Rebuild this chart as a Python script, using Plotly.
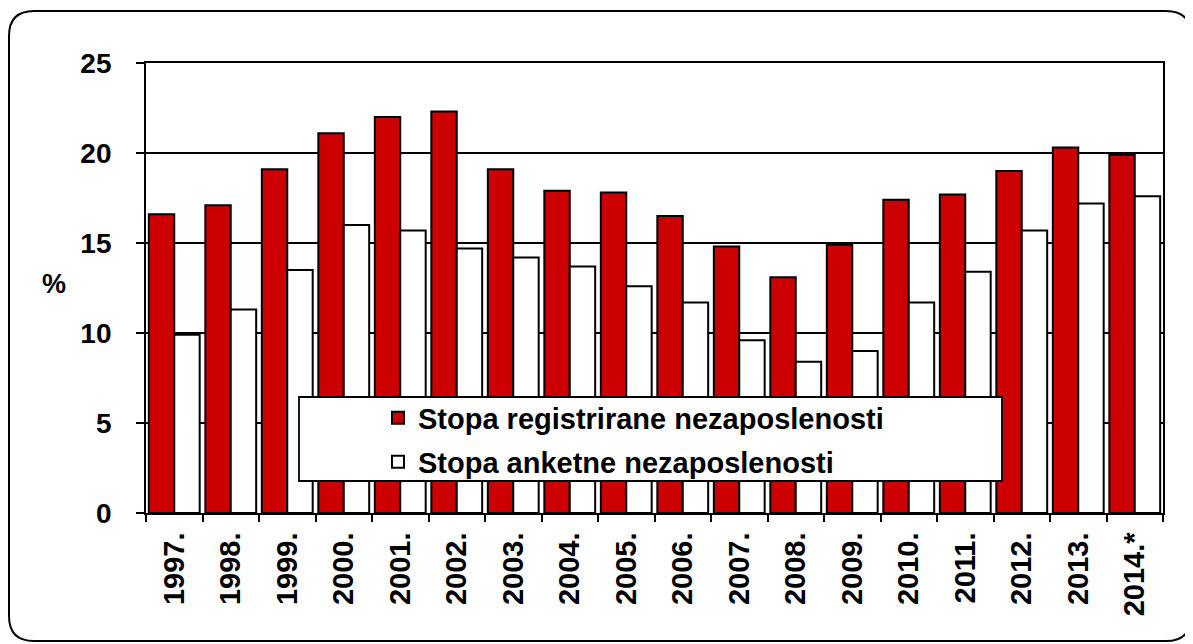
import plotly.graph_objects as go

# data
years = ["1997.", "1998.", "1999.", "2000.", "2001.", "2002.", "2003.", "2004.", "2005.",
         "2006.", "2007.", "2008.", "2009.", "2010.", "2011.", "2012.", "2013.", "2014.*"]
registrirana = [16.6, 17.1, 19.1, 21.1, 22.0, 22.3, 19.1, 17.9, 17.8,
                16.5, 14.8, 13.1, 14.9, 17.4, 17.7, 19.0, 20.3, 19.9]
anketna = [9.9, 11.3, 13.5, 16.0, 15.7, 14.7, 14.2, 13.7, 12.6,
           11.7, 9.6, 8.4, 9.0, 11.7, 13.4, 15.7, 17.2, 17.6]
y_ticks = [0, 5, 10, 15, 20, 25]

FONT = "Arial, Liberation Sans, sans-serif"
RED = "rgb(204,0,0)"

fig = go.Figure()

fig.add_trace(go.Bar(
    x=years, y=registrirana, name="Stopa registrirane nezaposlenosti",
    marker=dict(color=RED, line=dict(color="black", width=2)),
    legend="legend",
))
fig.add_trace(go.Bar(
    x=years, y=anketna, name="Stopa anketne nezaposlenosti",
    marker=dict(color="white", line=dict(color="black", width=2)),
    legend="legend2",
))

# the page body has an 8px margin, so the figure is drawn 8px smaller
# and all page pixel positions below are shifted by 8
OFF = 8
W, H = 1193 - OFF, 644 - OFF
L, T = 146 - OFF, 63 - OFF
R = W - (1163 - OFF)
B = H - (513 - OFF)
pw, ph = W - L - R, H - T - B


def px(x):
    return (x - OFF - L) / pw


def py(y):
    return (H - B - (y - OFF)) / ph


# rounded outer frame
xl, xr, yt, yb = px(9), px(1191), py(11), py(641)
rx, ry = 25 / pw, 25 / ph
frame = (f"M {xl+rx},{yt} L {xr-rx},{yt} Q {xr},{yt} {xr},{yt-ry} "
         f"L {xr},{yb+ry} Q {xr},{yb} {xr-rx},{yb} L {xl+rx},{yb} "
         f"Q {xl},{yb} {xl},{yb+ry} L {xl},{yt-ry} Q {xl},{yt} {xl+rx},{yt} Z")
fig.add_shape(type="path", path=frame, xref="paper", yref="paper",
              line=dict(color="black", width=2), layer="below")

# legend box
fig.add_shape(type="rect", xref="paper", yref="paper",
              x0=px(299), x1=px(1002), y0=py(481), y1=py(397),
              fillcolor="white", line=dict(color="black", width=1.8), layer="above")

fig.add_annotation(text="<b>%</b>", xref="paper", yref="paper",
                   x=px(54), y=py(284), xanchor="center", yanchor="middle",
                   showarrow=False,
                   font=dict(family=FONT, size=27, color="black"))

legend_style = dict(font=dict(family=FONT, size=29, color="black", weight="bold"),
                    bgcolor="rgba(0,0,0,0)", borderwidth=0,
                    xanchor="left", yanchor="middle", x=px(378))

fig.update_layout(
    width=W, height=H,
    margin=dict(l=L, r=R, t=T, b=B),
    paper_bgcolor="white", plot_bgcolor="white",
    barmode="group", bargap=0.1, bargroupgap=0,
    showlegend=True,
    legend=dict(y=py(418), **legend_style),
    legend2=dict(y=py(462), **legend_style),
    xaxis=dict(
        type="category", tickangle=-90,
        ticks="outside", tickson="boundaries", ticklen=7, tickwidth=1.5, tickcolor="black",
        showline=True, linecolor="black", linewidth=1.8, mirror=True,
        showgrid=False, ticklabelstandoff=6,
        tickfont=dict(family=FONT, size=29, color="black", weight="bold"),
    ),
    yaxis=dict(
        range=[0, 25], tickvals=y_ticks,
        ticks="outside", ticklen=8, tickwidth=1.5, tickcolor="black",
        showline=True, linecolor="black", linewidth=1.8, mirror=True,
        showgrid=True, gridcolor="black", gridwidth=1.5, zeroline=False,
        ticklabelstandoff=19,
        tickfont=dict(family=FONT, size=28, color="black", weight="bold"),
    ),
)

fig.write_html("out.html")
